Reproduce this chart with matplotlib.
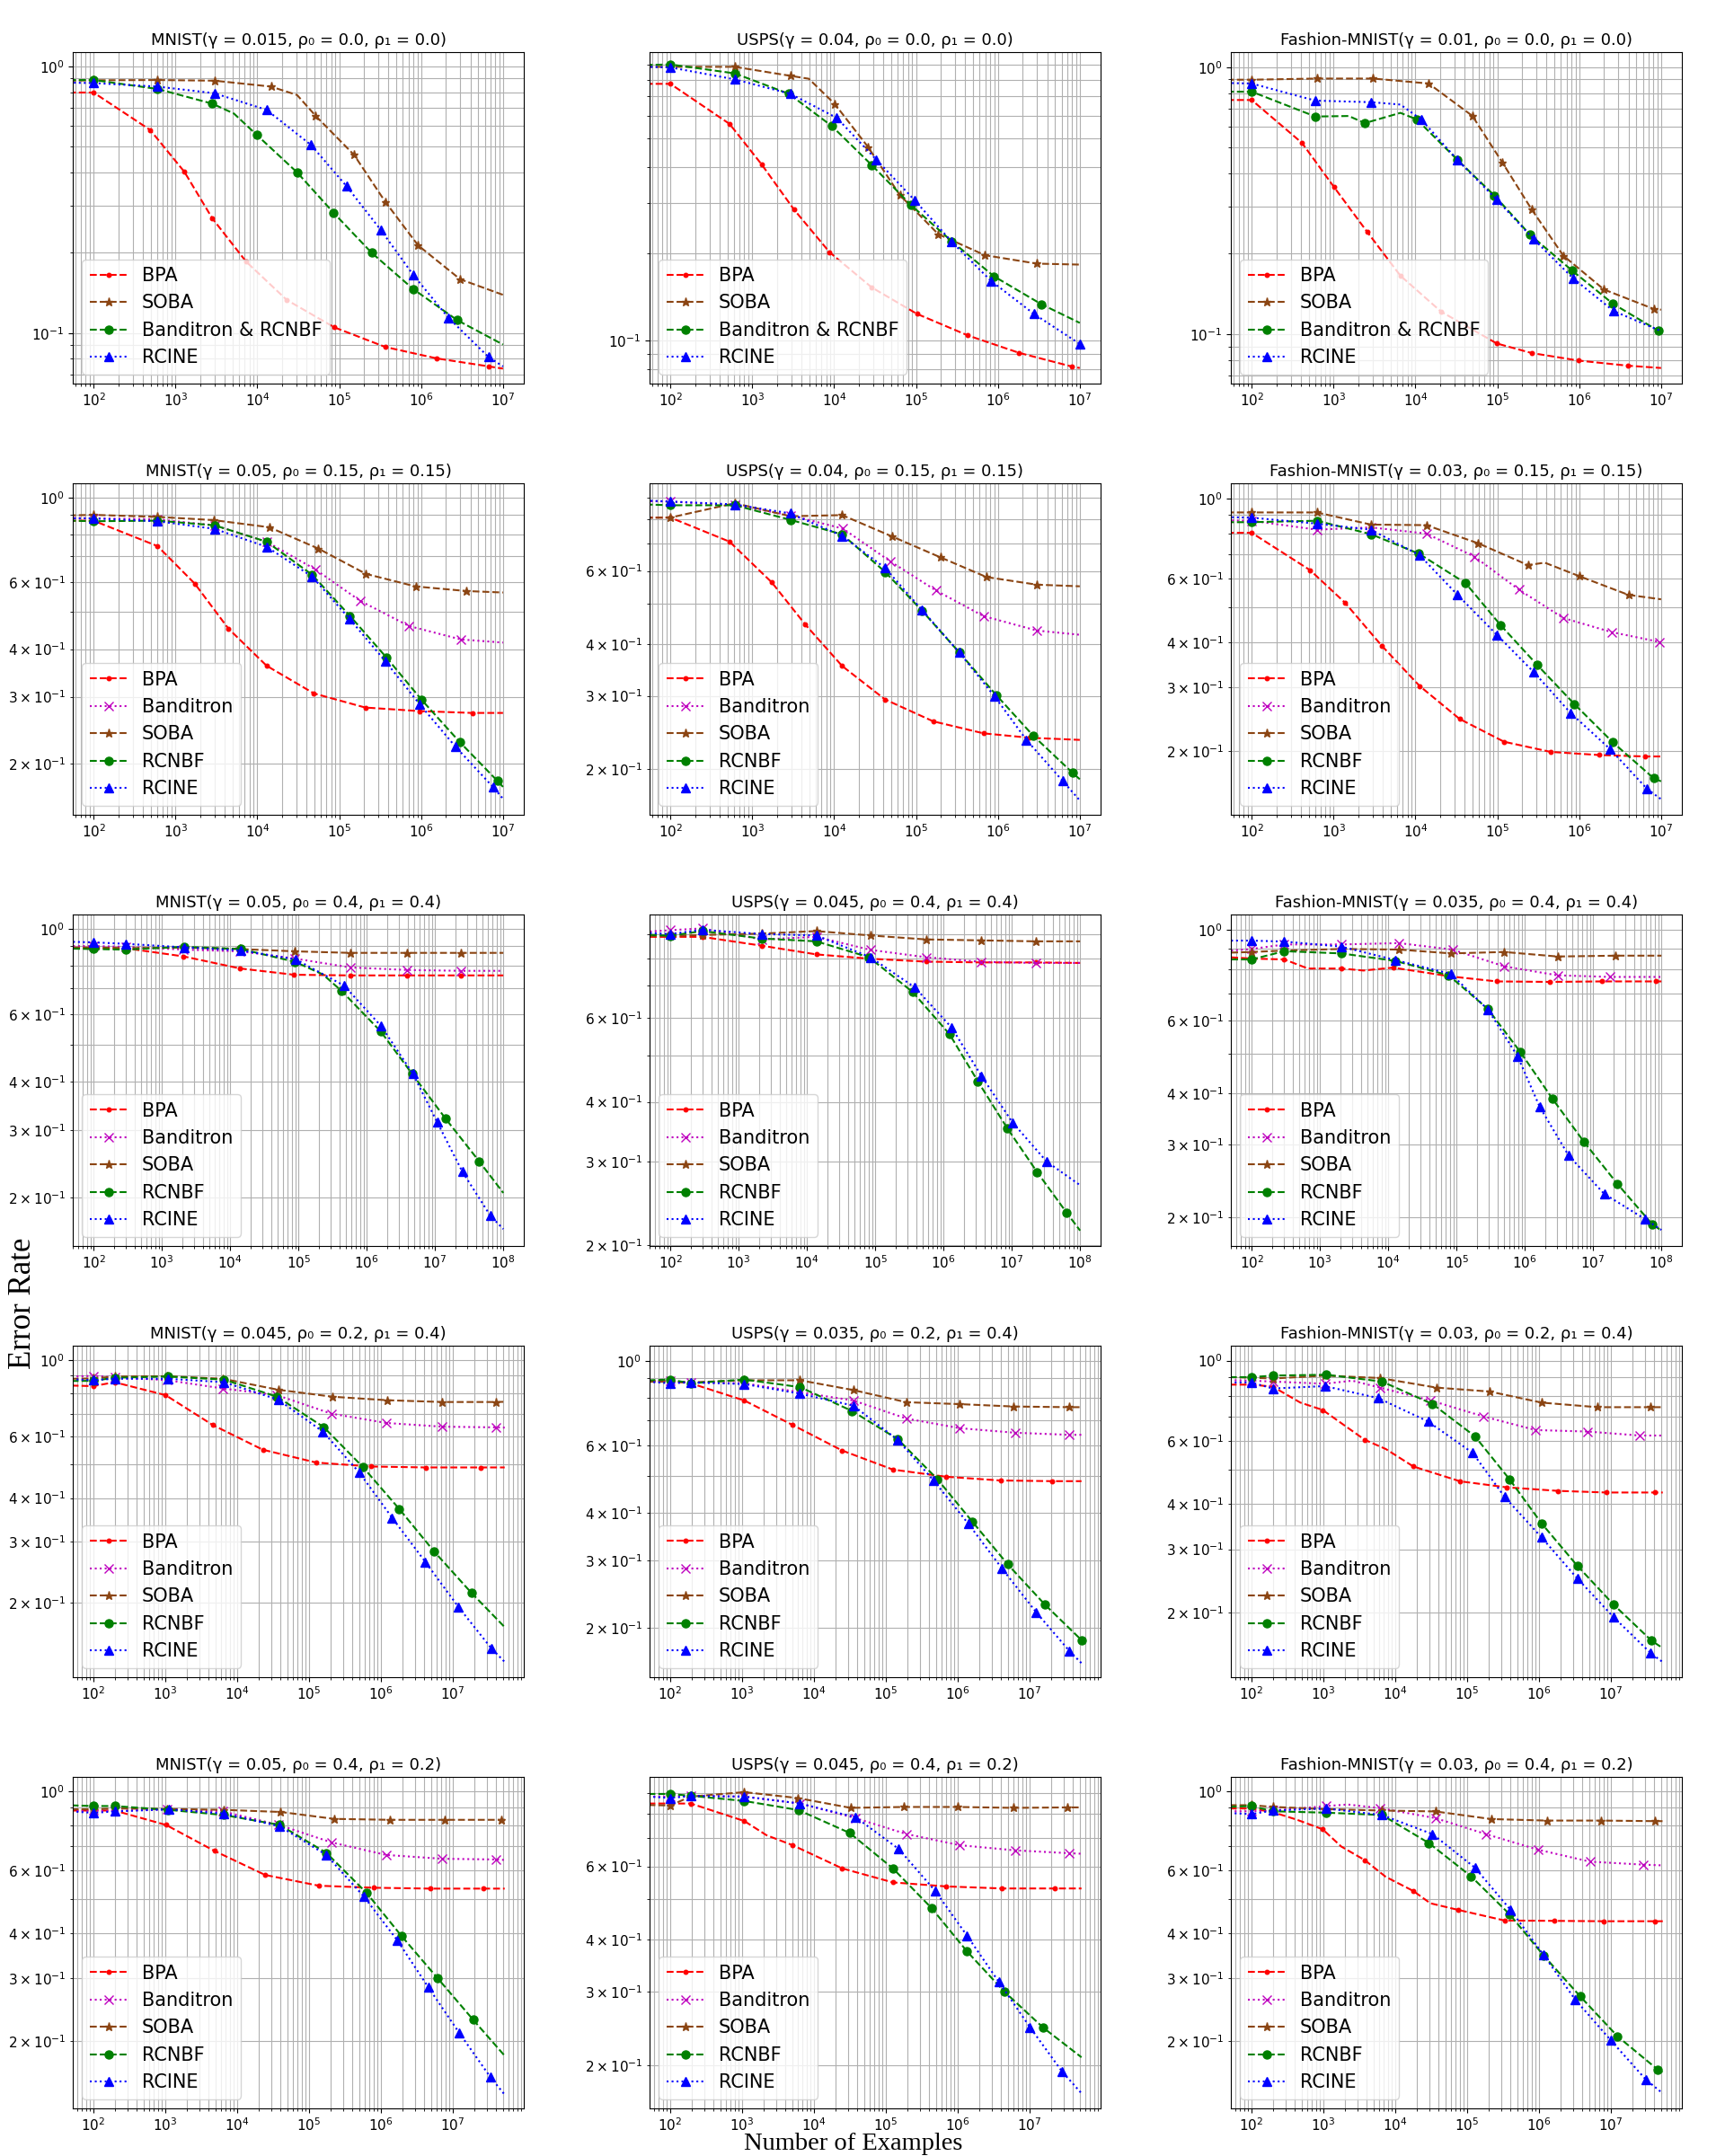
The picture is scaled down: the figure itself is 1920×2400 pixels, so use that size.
import matplotlib
matplotlib.use("Agg")
import matplotlib.pyplot as plt

# ---------------- data: (x, error rate) ; a trailing 0 means "no marker" ----------------
# Row 1 (rho0 = rho1 = 0)
a_bpa = [(50,0.797,0),(100,0.797),(491,0.577),(1285,0.402),(2818,0.269),(7310,0.185),(22860,0.133),(87000,0.105),(366000,0.0886),(1.55e6,0.0803),(6.77e6,0.0749),(1e7,0.0735,0)]
a_soba = [(50,0.883,0),(100,0.886),(605,0.888),(3000,0.883),(14700,0.839),(30600,0.780,0),(51700,0.651),(152000,0.465),(366000,0.310),(920000,0.213),(3.0e6,0.159),(1e7,0.139,0)]
a_green = [(50,0.888,0),(100,0.888),(605,0.822),(2818,0.724),(5170,0.665,0),(9890,0.552),(30600,0.400),(85500,0.282),(248000,0.200),(803000,0.146),(2.76e6,0.1117),(1e7,0.0905,0)]
a_rcine = [(50,0.868,0),(100,0.865),(605,0.839),(3000,0.792),(13000,0.686),(45200,0.507),(123000,0.355),(323000,0.243),(803000,0.165),(2.17e6,0.1138),(6.65e6,0.0813),(1e7,0.0749,0)]

f_bpa = [(50,0.773,0),(100,0.773),(528,0.562),(1295,0.408),(3236,0.2843),(8790,0.2025),(28800,0.153),(102500,0.124),(431000,0.1044),(1.82e6,0.0909),(7.94e6,0.0816),(1e7,0.0806,0)]
f_soba = [(50,0.885,0),(100,0.885),(612,0.885),(2917,0.824),(4900,0.805,0),(10200,0.658),(25900,0.468),(63500,0.319),(187000,0.2337),(696000,0.1977),(2.99e6,0.1849),(1e7,0.1835,0)]
f_green = [(50,0.898,0),(100,0.902),(612,0.840),(2800,0.714),(9350,0.5527),(28800,0.405),(86700,0.2947),(273000,0.221),(894000,0.1672),(3.39e6,0.1339),(1e7,0.1154,0)]
f_rcine = [(50,0.885,0),(100,0.881),(612,0.801),(2917,0.714),(10800,0.5895),(32700,0.423),(96400,0.306),(273000,0.220),(822000,0.1613),(2.75e6,0.124),(1e7,0.0976)]

k_bpa = [(50,0.753,0),(100,0.753),(412,0.520),(1010,0.356),(2570,0.2417),(6560,0.1655),(20600,0.1214),(98400,0.0923),(262000,0.085),(991000,0.0796),(3.92e6,0.0762),(1e7,0.0747,0)]
k_soba = [(50,0.897,0),(100,0.897),(625,0.906),(3040,0.906),(14500,0.868),(49500,0.657),(116000,0.438),(262000,0.2935),(641000,0.1967),(2.01e6,0.1469),(8.3e6,0.124),(1e7,0.1235,0)]
k_green = [(50,0.809,0),(100,0.809),(600,0.653),(1530,0.656,0),(2415,0.617),(6560,0.674,0),(10370,0.637),(32700,0.449),(92500,0.330),(251000,0.2356),(822000,0.1729),(2.58e6,0.130),(9.2e6,0.1031),(1e7,0.1027,0)]
k_rcine = [(50,0.872,0),(100,0.868),(600,0.749),(2860,0.739),(6560,0.724,0),(11750,0.637),(32700,0.449),(98400,0.3187),(279000,0.2266),(840000,0.162),(2.64e6,0.122),(1e7,0.1027,0)]

# Row 2 (rho0 = rho1 = 0.15)
b_bpa = [(50,0.869,0),(100,0.869),(605,0.745),(1722,0.594),(4420,0.453),(13000,0.3616),(49100,0.306),(208000,0.281),(968000,0.275),(4.2e6,0.272),(1e7,0.272,0)]
b_band = [(50,0.884,0),(100,0.881),(605,0.876),(3000,0.845),(13000,0.765),(50700,0.648),(181000,0.535),(708000,0.460),(3.06e6,0.424),(1e7,0.416,0)]
b_soba = [(50,0.897,0),(100,0.900),(605,0.889),(2910,0.872),(14000,0.835),(55600,0.734),(212000,0.630),(855000,0.584),(3.59e6,0.568),(1e7,0.563,0)]
b_rcnbf = [(50,0.869,0),(100,0.866),(605,0.869),(3000,0.845),(13000,0.765),(46600,0.627),(135000,0.489),(378000,0.380),(1.02e6,0.294),(2.97e6,0.228),(8.55e6,0.1804),(1e7,0.174,0)]
b_rcine = [(50,0.881,0),(100,0.881),(605,0.866),(3000,0.827),(13000,0.742),(46600,0.620),(133000,0.481),(366000,0.3716),(968000,0.286),(2.62e6,0.222),(7.53e6,0.174),(1e7,0.162,0)]

g_bpa = [(50,0.807,0),(100,0.807),(528,0.706),(1733,0.563),(4430,0.446),(12530,0.354),(41900,0.294),(162000,0.2604),(668000,0.2436),(2.43e6,0.2377),(1e7,0.2349,0)]
g_band = [(50,0.884,0),(100,0.882),(612,0.864),(2917,0.817),(12800,0.759),(48400,0.633),(176000,0.538),(668000,0.467),(2.99e6,0.431),(1e7,0.421,0)]
g_soba = [(50,0.806,0),(100,0.807),(612,0.874),(2917,0.813),(12530,0.818),(51500,0.726),(199000,0.647),(726000,0.580),(2.99e6,0.556),(1e7,0.551,0)]
g_rcnbf = [(50,0.868,0),(100,0.864),(612,0.864),(2917,0.797),(12530,0.735),(41900,0.597),(118600,0.481),(336000,0.382),(950000,0.3016),(2.69e6,0.2406),(8.13e6,0.1958),(1e7,0.1888,0)]
g_rcine = [(50,0.887,0),(100,0.882),(612,0.868),(2917,0.826),(12530,0.729),(41900,0.610),(118600,0.483),(336000,0.382),(912000,0.299),(2.23e6,0.2349),(6.2e6,0.1869),(1e7,0.1679,0)]

l_bpa = [(50,0.803,0),(100,0.803),(518,0.633),(1377,0.515),(3900,0.391),(11270,0.303),(34700,0.2457),(121000,0.2126),(449000,0.1993),(1.74e6,0.1954),(6.3e6,0.1936),(1e7,0.1936,0)]
l_band = [(50,0.870,0),(100,0.867),(625,0.819),(2860,0.831),(13600,0.799),(52600,0.690),(184000,0.559),(641000,0.467),(2.48e6,0.427),(9.6e6,0.401),(1e7,0.400,0)]
l_soba = [(50,0.914,0),(100,0.914),(625,0.914),(2860,0.846),(13600,0.843),(58500,0.751),(236000,0.654),(380000,0.664,0),(1.01e6,0.609),(4.0e6,0.541),(1e7,0.526,0)]
l_rcnbf = [(50,0.859,0),(100,0.859),(625,0.867),(2860,0.796),(11040,0.703),(41000,0.583),(109000,0.447),(309000,0.346),(875000,0.270),(2.58e6,0.2117),(8.13e6,0.1685),(1e7,0.1653,0)]
l_rcine = [(50,0.887,0),(100,0.884),(625,0.851),(2860,0.819),(11270,0.696),(32700,0.541),(98400,0.420),(279000,0.331),(789000,0.255),(2.38e6,0.203),(6.73e6,0.1576),(1e7,0.1475,0)]

# Row 3 (rho0 = rho1 = 0.4)
c_bpa = [(50,0.890,0),(100,0.890),(298,0.889),(2075,0.847),(13960,0.788),(85900,0.759),(570000,0.756),(3.83e6,0.756),(2.42e7,0.756),(1e8,0.756,0)]
c_band = [(50,0.901,0),(100,0.901),(298,0.897),(2075,0.882),(14000,0.873),(89000,0.836),(570000,0.793),(3.83e6,0.781),(2.42e7,0.777),(1e8,0.777,0)]
c_soba = [(50,0.893,0),(100,0.893),(298,0.890),(2075,0.893),(14000,0.885),(89000,0.873),(570000,0.865),(3.83e6,0.865),(2.42e7,0.865),(1e8,0.865,0)]
c_rcnbf = [(50,0.887,0),(100,0.885),(298,0.882),(2130,0.897),(14300,0.885),(89000,0.820),(229000,0.760,0),(428000,0.689),(1.6e6,0.541),(4.63e6,0.4195),(1.43e7,0.321),(4.42e7,0.249),(1e8,0.206,0)]
c_rcine = [(50,0.924,0),(100,0.921),(298,0.913),(2130,0.894),(14300,0.878),(91400,0.832),(467000,0.711),(1.63e6,0.558),(4.74e6,0.420),(1.08e7,0.314),(2.51e7,0.234),(6.43e7,0.180),(1e8,0.166,0)]

h_bpa = [(50,0.887,0),(100,0.887),(293,0.887),(2160,0.850),(13700,0.815),(84800,0.798),(552000,0.787),(3.59e6,0.784),(2.22e7,0.784),(1e8,0.782,0)]
h_band = [(50,0.910,0),(100,0.916),(293,0.924),(2160,0.876),(13700,0.887),(84800,0.833),(552000,0.804),(3.59e6,0.786),(2.22e7,0.782),(1e8,0.782,0)]
h_soba = [(50,0.891,0),(100,0.891),(293,0.895),(2160,0.901),(13700,0.912),(84800,0.893),(552000,0.876),(3.59e6,0.872),(2.22e7,0.868),(1e8,0.868,0)]
h_rcnbf = [(50,0.896,0),(100,0.892),(293,0.912),(2160,0.880),(13700,0.868),(80700,0.804),(352000,0.680),(1.23e6,0.554),(3.17e6,0.442),(8.6e6,0.352),(2.34e7,0.2852),(6.35e7,0.2343),(1e8,0.2149,0)]
h_rcine = [(50,0.903,0),(100,0.899),(293,0.918),(2160,0.899),(13700,0.893),(84800,0.804),(380000,0.695),(1.32e6,0.572),(3.59e6,0.4532),(1.03e7,0.3618),(3.24e7,0.2998),(1e8,0.2675,0)]

m_bpa = [(50,0.856,0),(100,0.850),(300,0.846),(667,0.804,0),(2050,0.804),(4340,0.795,0),(11800,0.808),(82800,0.769),(389000,0.748),(2.35e6,0.746),(1.35e7,0.748),(8.36e7,0.748),(1e8,0.748,0)]
m_band = [(50,0.889,0),(100,0.897),(300,0.920),(2050,0.920),(14400,0.927),(86900,0.894),(499000,0.814),(3.01e6,0.774),(1.77e7,0.767),(1e8,0.767,0)]
m_soba = [(50,0.879,0),(100,0.882),(300,0.889),(2050,0.897),(14400,0.894),(82800,0.875),(499000,0.882),(3.01e6,0.860),(2.11e7,0.864),(1e8,0.864,0)]
m_rcnbf = [(50,0.846,0),(100,0.846),(300,0.886),(2050,0.875),(12700,0.839),(76700,0.774),(288000,0.641),(865000,0.503),(2.53e6,0.388),(7.41e6,0.304),(2.28e7,0.2405),(7.38e7,0.1918),(1e8,0.1854,0)]
m_rcine = [(50,0.940,0),(100,0.940),(300,0.935),(2050,0.909),(12700,0.843),(82800,0.780),(288000,0.639),(783000,0.492),(1.66e6,0.370),(4.39e6,0.282),(1.46e7,0.2275),(5.74e7,0.1977),(1e8,0.186,0)]

# Row 4 (rho0 = 0.2, rho1 = 0.4)
d_bpa = [(50,0.843,0),(100,0.840),(198,0.862),(1018,0.791),(4600,0.649),(22900,0.551),(127000,0.506),(736000,0.493),(4.23e6,0.490),(2.45e7,0.490),(5.3e7,0.490,0)]
d_band = [(50,0.895,0),(100,0.899),(198,0.891),(1057,0.874),(6370,0.827),(36100,0.791),(205000,0.700),(1.19e6,0.658),(7.16e6,0.642),(3.96e7,0.639),(5.3e7,0.638,0)]
d_soba = [(50,0.882,0),(100,0.884),(198,0.895),(1057,0.897),(6370,0.882),(37400,0.820),(212000,0.783),(1.23e6,0.765),(7.16e6,0.756),(3.96e7,0.756),(5.3e7,0.757,0)]
d_rcnbf = [(50,0.869,0),(100,0.870),(198,0.888),(1105,0.895),(6590,0.877),(36100,0.783),(161000,0.640),(566000,0.491),(1.81e6,0.372),(5.5e6,0.281),(1.82e7,0.2135),(5.3e7,0.170,0)]
d_rcine = [(50,0.879,0),(100,0.874),(198,0.882),(1105,0.882),(6590,0.862),(37400,0.768),(157000,0.621),(502000,0.474),(1.44e6,0.351),(4.17e6,0.262),(1.2e7,0.1945),(3.43e7,0.148),(5.3e7,0.135,0)]

i_bpa = [(50,0.886,0),(100,0.886),(194,0.873),(1079,0.787),(5070,0.679),(24900,0.582),(126000,0.519),(697000,0.497),(3.95e6,0.486),(2.09e7,0.484),(5.3e7,0.484,0)]
i_band = [(50,0.881,0),(100,0.885),(194,0.878),(1079,0.873),(6430,0.827),(35600,0.787),(193000,0.706),(1.07e6,0.666),(6.37e6,0.648),(3.53e7,0.640),(5.3e7,0.640,0)]
i_soba = [(50,0.881,0),(100,0.881),(194,0.878),(1079,0.889),(6430,0.889),(35600,0.838),(193000,0.779),(1.07e6,0.770),(6.07e6,0.759),(3.53e7,0.756),(5.3e7,0.756,0)]
i_rcnbf = [(50,0.889,0),(100,0.893),(194,0.873),(1079,0.893),(6430,0.853),(34000,0.739),(148000,0.623),(523000,0.490),(1.6e6,0.3795),(5.0e6,0.293),(1.65e7,0.2298),(5.3e7,0.1857)]
i_rcine = [(50,0.881,0),(100,0.873),(194,0.878),(1079,0.869),(6430,0.820),(35600,0.763),(148000,0.620),(464000,0.486),(1.42e6,0.374),(4.15e6,0.286),(1.24e7,0.2197),(3.61e7,0.1738),(5.3e7,0.1616,0)]

n_bpa = [(50,0.858,0),(100,0.858),(199,0.847),(481,0.765,0),(982,0.730),(3800,0.603),(7410,0.569,0),(17900,0.509),(80000,0.463),(358000,0.4454),(1.85e6,0.4355),(8.67e6,0.431),(4.17e7,0.431),(5.3e7,0.431,0)]
n_band = [(50,0.883,0),(100,0.880),(199,0.875),(1054,0.863),(2540,0.880,0),(6120,0.842),(30900,0.776),(171000,0.700),(905000,0.642),(4.79e6,0.636),(2.53e7,0.620),(5.3e7,0.620,0)]
n_soba = [(50,0.900,0),(100,0.897),(199,0.892),(1054,0.909),(6120,0.895),(37300,0.842),(207000,0.821),(1.09e6,0.765),(6.52e6,0.743),(3.61e7,0.743),(5.3e7,0.743,0)]
n_rcnbf = [(50,0.900,0),(100,0.900),(199,0.909),(1105,0.914),(6580,0.875),(33200,0.758),(129000,0.617),(394000,0.468),(1.09e6,0.354),(3.43e6,0.270),(1.1e7,0.2106),(3.7e7,0.1674),(5.3e7,0.1596,0)]
n_rcine = [(50,0.870,0),(100,0.870),(199,0.837),(1054,0.850),(5850,0.787),(28800,0.678),(120000,0.555),(334000,0.419),(1.09e6,0.3237),(3.43e6,0.249),(1.1e7,0.1944),(3.61e7,0.1545),(5.3e7,0.146,0)]

# Row 5 (rho0 = 0.4, rho1 = 0.2)
e_bpa = [(50,0.882,0),(100,0.882),(198,0.882),(1031,0.804),(4890,0.680),(24600,0.583),(138000,0.544),(809000,0.537),(4.87e6,0.534),(2.7e7,0.534),(5.3e7,0.534,0)]
e_band = [(50,0.882,0),(100,0.882),(198,0.880),(1057,0.889),(6370,0.877),(38300,0.804),(205000,0.719),(1.19e6,0.663),(7.16e6,0.647),(3.96e7,0.644),(5.3e7,0.642,0)]
e_soba = [(50,0.889,0),(100,0.889),(198,0.894),(1060,0.891),(6590,0.886),(40600,0.874),(225000,0.836),(1.36e6,0.831),(7.87e6,0.831),(4.73e7,0.831),(5.3e7,0.831,0)]
e_rcnbf = [(50,0.912,0),(100,0.908),(198,0.908),(1105,0.886),(6590,0.857),(39300,0.804),(175000,0.672),(638000,0.519),(1.94e6,0.394),(6.2e6,0.300),(1.93e7,0.2298),(5.3e7,0.1823,0)]
e_rcine = [(50,0.877,0),(100,0.869),(198,0.877),(1123,0.889),(6590,0.865),(39300,0.797),(175000,0.663),(580000,0.508),(1.7e6,0.383),(4.6e6,0.283),(1.24e7,0.211),(3.35e7,0.159),(5.3e7,0.142,0)]

j_bpa = [(50,0.848,0),(100,0.848),(194,0.848),(1079,0.770),(2200,0.712,0),(5070,0.674),(24900,0.593),(126000,0.549),(697000,0.537),(4.15e6,0.531),(2.24e7,0.531),(5.3e7,0.531,0)]
j_band = [(50,0.881,0),(100,0.881),(194,0.885),(1079,0.881),(6430,0.848),(38300,0.782),(193000,0.717),(1.07e6,0.674),(6.37e6,0.655),(3.53e7,0.645),(5.3e7,0.643,0)]
j_soba = [(50,0.841,0),(100,0.839),(194,0.881),(1079,0.903),(5980,0.874),(32400,0.828),(180000,0.832),(1e6,0.832),(6.07e6,0.828),(3.37e7,0.830),(5.3e7,0.830,0)]
j_rcnbf = [(50,0.894,0),(100,0.894),(194,0.885),(1079,0.860),(6120,0.818),(31600,0.721),(126000,0.593),(433000,0.477),(1.36e6,0.375),(4.45e6,0.301),(1.57e7,0.2462),(5.3e7,0.2094,0)]
j_rcine = [(50,0.881,0),(100,0.874),(194,0.884),(1079,0.881),(6430,0.848),(38300,0.786),(152000,0.660),(488000,0.524),(1.36e6,0.409),(3.77e6,0.3169),(1.02e7,0.247),(2.85e7,0.1935),(5.3e7,0.1717,0)]

o_bpa = [(50,0.894,0),(100,0.894),(199,0.873),(427,0.832,0),(982,0.782),(1780,0.700,0),(3800,0.641),(7410,0.576,0),(17900,0.526),(30900,0.486,0),(74500,0.466),(334000,0.435),(1.64e6,0.434),(7.89e6,0.433),(4.07e7,0.433),(5.3e7,0.433,0)]
o_band = [(50,0.878,0),(100,0.878),(199,0.882),(1105,0.908),(2200,0.917,0),(6120,0.896),(36500,0.840),(184000,0.758),(972000,0.686),(5.14e6,0.635),(2.85e7,0.623),(5.3e7,0.620,0)]
o_soba = [(50,0.913,0),(100,0.913),(199,0.903),(1105,0.890),(6580,0.882),(36500,0.877),(217000,0.835),(1.29e6,0.827),(7.35e6,0.827),(4.17e7,0.824),(5.3e7,0.824,0)]
o_rcnbf = [(50,0.903,0),(100,0.908),(199,0.878),(1105,0.870),(6580,0.857),(29400,0.716),(114000,0.578),(394000,0.4523),(1.17e6,0.347),(3.77e6,0.267),(1.24e7,0.2067),(4.48e7,0.167),(5.3e7,0.1644,0)]
o_rcine = [(50,0.868,0),(100,0.862),(199,0.882),(1105,0.894),(6580,0.857),(33200,0.758),(129000,0.611),(403000,0.466),(1.17e6,0.348),(3.19e6,0.262),(1e7,0.2015),(3.06e7,0.1567),(5.3e7,0.1431,0)]

# titles, legend labels and axis ranges
titles = [
    ["MNIST(γ = 0.015, ρ₀ = 0.0, ρ₁ = 0.0)", "USPS(γ = 0.04, ρ₀ = 0.0, ρ₁ = 0.0)", "Fashion-MNIST(γ = 0.01, ρ₀ = 0.0, ρ₁ = 0.0)"],
    ["MNIST(γ = 0.05, ρ₀ = 0.15, ρ₁ = 0.15)", "USPS(γ = 0.04, ρ₀ = 0.15, ρ₁ = 0.15)", "Fashion-MNIST(γ = 0.03, ρ₀ = 0.15, ρ₁ = 0.15)"],
    ["MNIST(γ = 0.05, ρ₀ = 0.4, ρ₁ = 0.4)", "USPS(γ = 0.045, ρ₀ = 0.4, ρ₁ = 0.4)", "Fashion-MNIST(γ = 0.035, ρ₀ = 0.4, ρ₁ = 0.4)"],
    ["MNIST(γ = 0.045, ρ₀ = 0.2, ρ₁ = 0.4)", "USPS(γ = 0.035, ρ₀ = 0.2, ρ₁ = 0.4)", "Fashion-MNIST(γ = 0.03, ρ₀ = 0.2, ρ₁ = 0.4)"],
    ["MNIST(γ = 0.05, ρ₀ = 0.4, ρ₁ = 0.2)", "USPS(γ = 0.045, ρ₀ = 0.4, ρ₁ = 0.2)", "Fashion-MNIST(γ = 0.03, ρ₀ = 0.4, ρ₁ = 0.2)"],
]
labels_row1 = ["BPA", "SOBA", "Banditron & RCNBF", "RCINE"]
labels_rest = ["BPA", "Banditron", "SOBA", "RCNBF", "RCINE"]
row_xlims = [(10**1.746, 10**7.254), (10**1.746, 10**7.254), (10**1.695, 10**8.30),
             (10**1.715, 10**7.99), (10**1.715, 10**7.99)]
ylims = [
    [(0.0646, 1.13), (0.0712, 0.995), (0.0653, 1.138)],
    [(0.147, 1.089), (0.155, 0.976), (0.1336, 1.10)],
    [(0.150, 1.088), (0.1995, 0.988), (0.170, 1.088)],
    [(0.122, 1.098), (0.1485, 1.095), (0.1326, 1.10)],
    [(0.130, 1.095), (0.158, 0.982), (0.130, 1.095)],
]

series = [
    [[a_bpa, a_soba, a_green, a_rcine], [f_bpa, f_soba, f_green, f_rcine], [k_bpa, k_soba, k_green, k_rcine]],
    [[b_bpa, b_band, b_soba, b_rcnbf, b_rcine], [g_bpa, g_band, g_soba, g_rcnbf, g_rcine], [l_bpa, l_band, l_soba, l_rcnbf, l_rcine]],
    [[c_bpa, c_band, c_soba, c_rcnbf, c_rcine], [h_bpa, h_band, h_soba, h_rcnbf, h_rcine], [m_bpa, m_band, m_soba, m_rcnbf, m_rcine]],
    [[d_bpa, d_band, d_soba, d_rcnbf, d_rcine], [i_bpa, i_band, i_soba, i_rcnbf, i_rcine], [n_bpa, n_band, n_soba, n_rcnbf, n_rcine]],
    [[e_bpa, e_band, e_soba, e_rcnbf, e_rcine], [j_bpa, j_band, j_soba, j_rcnbf, j_rcine], [o_bpa, o_band, o_soba, o_rcnbf, o_rcine]],
]

# ---------------- styles ----------------
BROWN = "#8B4513"
STYLE = {
    "BPA": dict(color="r", ls="--", marker="."),
    "Banditron": dict(color="m", ls=":", marker="x"),
    "SOBA": dict(color=BROWN, ls="--", marker="*"),
    "RCNBF": dict(color="g", ls="--", marker="o"),
    "Banditron & RCNBF": dict(color="g", ls="--", marker="o"),
    "RCINE": dict(color="b", ls=":", marker="^"),
}

W, H = 1920, 2400
fig = plt.figure(figsize=(W / 100, H / 100), dpi=100)

col_left = [81, 723, 1370]
ax_w, ax_h = 502, 369

for r in range(5):
    labels = labels_row1 if r == 0 else labels_rest
    for c in range(3):
        top = 480 * r + 58
        ax = fig.add_axes([col_left[c] / W, 1 - (top + ax_h) / H, ax_w / W, ax_h / H])
        ax.set_xscale("log")
        ax.set_yscale("log")
        for lab, pts in zip(labels, series[r][c]):
            xs = [p[0] for p in pts]
            ys = [p[1] for p in pts]
            mk = [i for i, p in enumerate(pts) if len(p) == 2]
            st = STYLE[lab]
            ax.plot(xs, ys, linestyle=st["ls"], color=st["color"], marker=st["marker"],
                    markevery=mk, markersize=6.5, linewidth=1.5, label=lab)
        ax.set_xlim(*row_xlims[r])
        ax.set_ylim(*ylims[r][c])
        ax.grid(True, which="both")
        ax.tick_params(labelsize=11, which="both")
        ax.set_title(titles[r][c], fontsize=13)
        ax.legend(loc="lower left", fontsize=15)

fig.text(26 / W, 1 - 1451 / H, "Error Rate", rotation=90, ha="center", va="center",
         fontsize=25, family="Liberation Serif")
fig.text(950 / W, 7 / H, "Number of Examples", ha="center", va="baseline",
         fontsize=20.5, family="Liberation Serif")

fig.savefig("out.png", dpi=100)
